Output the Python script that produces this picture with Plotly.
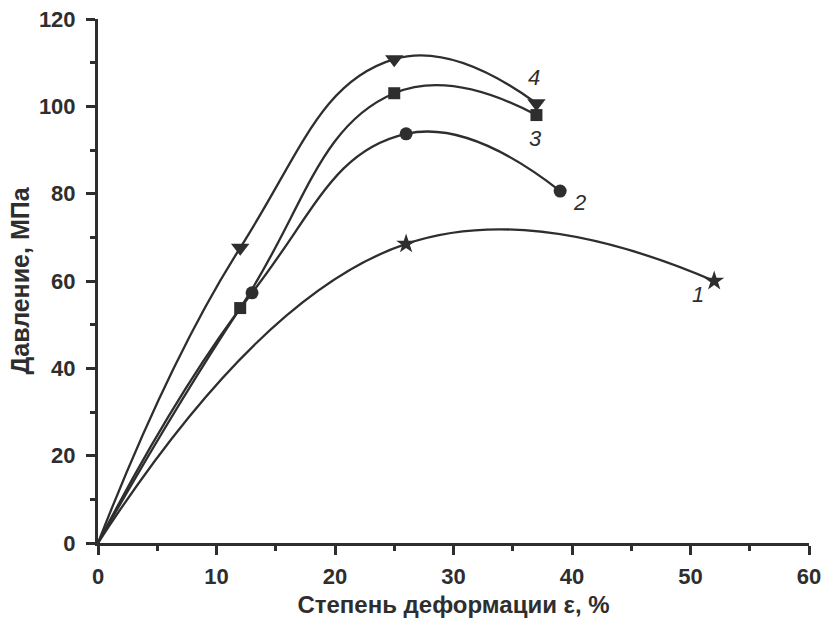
import plotly.graph_objects as go

# Data
x1 = [0, 26, 52]
y1 = [0, 68.5, 60]
x2 = [0, 13, 26, 39]
y2 = [0, 57.3, 93.7, 80.6]
x3 = [0, 12, 25, 37]
y3 = [0, 53.8, 103, 98]
x4 = [0, 12, 25, 37]
y4 = [0, 67.6, 110.8, 100.7]

xticks = [0, 10, 20, 30, 40, 50, 60]
yticks = [0, 20, 40, 60, 80, 100, 120]

series = [
    ("1", x1, y1, "star", 15),
    ("2", x2, y2, "circle", 13),
    ("3", x3, y3, "square", 12),
    ("4", x4, y4, "triangle-down", 16),
]
labels = [("1", 50.6, 56.8), ("2", 40.6, 78.0), ("3", 36.9, 92.7), ("4", 36.8, 106.5)]

ink = "#2e2e2e"
FONT = "Liberation Sans, Arial, sans-serif"
fig = go.Figure()
for name, xs, ys, sym, sz in series:
    fig.add_trace(go.Scatter(x=xs, y=ys, mode="lines",
                             line=dict(color=ink, width=2.3, shape="spline", smoothing=1.3),
                             hoverinfo="skip", showlegend=False))
    fig.add_trace(go.Scatter(x=xs[1:], y=ys[1:], mode="markers",
                             marker=dict(symbol=sym, size=sz, color=ink),
                             showlegend=False, name=name))

for t, lx, ly in labels:
    fig.add_annotation(x=lx, y=ly, text=f"<i>{t}</i>", showarrow=False,
                       font=dict(family=FONT, size=22, color=ink))

axis_common = dict(
    showline=True, linecolor=ink, linewidth=3, showgrid=False, zeroline=False,
    ticks="outside", ticklen=9, tickwidth=3, tickcolor=ink, automargin=False,
    tickfont=dict(family=FONT, size=22, color=ink),
    mirror=False,
)
fig.update_xaxes(range=[0, 60], tickmode="array", tickvals=xticks,
                 ticktext=[f"<b>{v}</b>" for v in xticks], ticklabelstandoff=3,
                 minor=dict(ticks="outside", dtick=5, tick0=0, ticklen=5, tickwidth=3, tickcolor=ink),
                 title=dict(text="<b>Степень деформации ε, %</b>", standoff=8,
                            font=dict(family=FONT, size=24, color=ink)),
                 **axis_common)
fig.update_yaxes(range=[0, 120], tickmode="array", tickvals=yticks,
                 ticktext=[f"<b>{v}</b>" for v in yticks], ticklabelstandoff=6,
                 minor=dict(ticks="outside", dtick=10, tick0=0, ticklen=5, tickwidth=3, tickcolor=ink),
                 title=dict(text="<b>Давление, МПа</b>", standoff=3,
                            font=dict(family=FONT, size=25, color=ink)),
                 **axis_common)

fig.update_layout(width=824, height=621, margin=dict(l=98, r=15, t=19, b=78),
                  plot_bgcolor="white", paper_bgcolor="white")
fig.write_html("out.html")
